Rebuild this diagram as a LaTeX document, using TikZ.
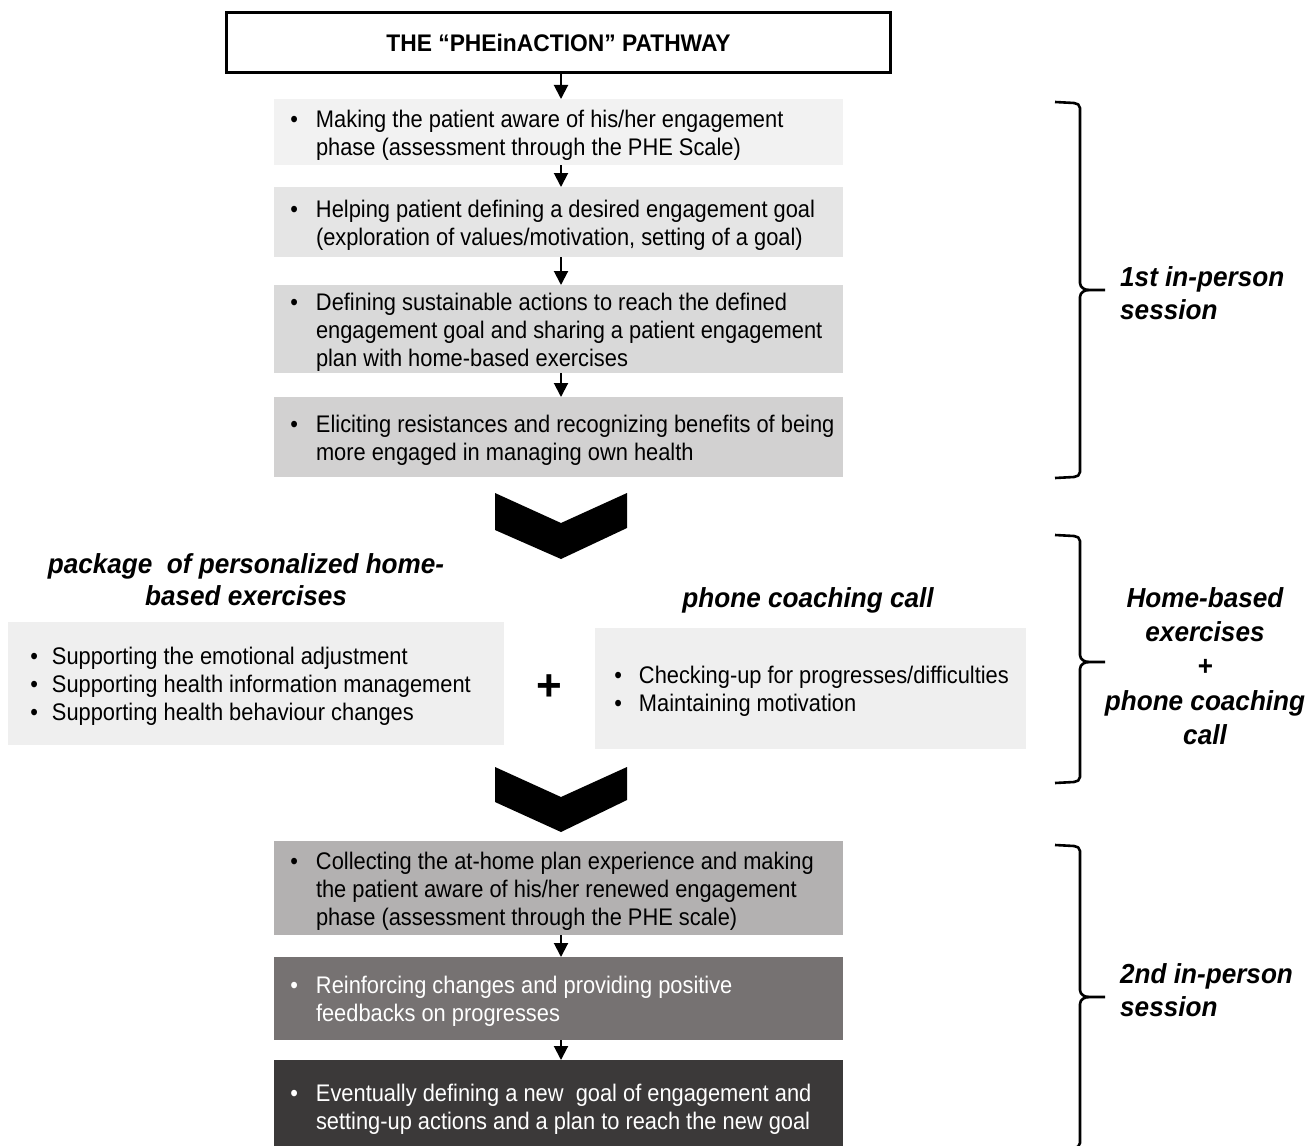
\documentclass[tikz,border=0pt]{standalone}
\usepackage{fontspec}
\setmainfont{Liberation Sans}
\newfontfamily\bodyfont[FakeStretch=0.91]{Liberation Sans}
\newfontfamily\headfont[FakeStretch=0.95]{Liberation Sans}
\usetikzlibrary{arrows.meta}

\definecolor{shadeA}{HTML}{F2F2F2}
\definecolor{shadeB}{HTML}{E5E5E5}
\definecolor{shadeC}{HTML}{D9D9D9}
\definecolor{shadeD}{HTML}{D2D1D1}
\definecolor{shadeE}{HTML}{B3B1B1}
\definecolor{shadeF}{HTML}{767272}
\definecolor{shadeG}{HTML}{3B3939}
\definecolor{shadeL}{HTML}{EFEFEF}

% bullet hanging to the left of the text start
\newcommand\bul[1]{\leavevmode\llap{\textbullet\hspace{#1}}}
% paragraph inside a box, with a left indent and a small top pad
\newcommand\boxpar[3]{\parbox{#1}{\vspace*{6pt}\bodyfont\fontsize{24}{28}\selectfont\raggedright\leftskip=#2\relax\parindent=0pt #3}}

\tikzset{
  stepbox/.style={draw=none, inner sep=0pt, minimum width=569pt, outer sep=0pt},
  flow/.style={line width=2pt, -{Triangle[width=14pt,length=14pt]}},
  heading/.style={font=\headfont\fontsize{27.5}{32}\selectfont\bfseries\itshape, align=center, inner sep=0pt},
  sidelabel/.style={font=\headfont\fontsize{27.5}{33}\selectfont\bfseries\itshape, inner sep=0pt},
  brc/.style={line width=2.6pt, line cap=butt, line join=round},
  chevron/.style={fill=black, draw=none},
}

% curly brace opening to the left: x, top, bottom, tip
\newcommand\sidebrace[4]{%
  \draw[brc] (#1-25,#2) -- (#1-6,#2+1) to[out=0,in=90] (#1,#2+6) -- (#1,#4-7)
    to[out=-90,in=180] (#1+9,#4) -- (#1+25,#4);
  \draw[brc] (#1+9,#4) to[out=180,in=90] (#1,#4+7) -- (#1,#3-6)
    to[out=-90,in=0] (#1-6,#3-1) -- (#1-25,#3);
}

\begin{document}
\begin{tikzpicture}[x=1pt,y=-1pt]
\clip (0,0) rectangle (1316,1145);
\fill[white] (0,0) rectangle (1316,1145);

% title
\node[draw=black, line width=3pt, minimum width=664pt, minimum height=60pt, inner sep=0pt,
      font=\headfont\fontsize{24}{26}\selectfont\bfseries] (title) at (558.5,42.5)
      {THE “PHEinACTION” PATHWAY};

% first session steps
\node[stepbox, fill=shadeA, minimum height=66pt] (s1) at (558.5,132)
  {\boxpar{569pt}{42pt}{\bul{18pt}Making the patient aware of his/her engagement\\
   phase (assessment through the PHE Scale)}};
\node[stepbox, fill=shadeB, minimum height=70pt] (s2) at (558.5,222)
  {\boxpar{569pt}{42pt}{\bul{18pt}Helping patient defining a desired engagement goal\\
   (exploration of values/motivation, setting of a goal)}};
\node[stepbox, fill=shadeC, minimum height=88pt] (s3) at (558.5,329)
  {\boxpar{569pt}{42pt}{\bul{18pt}Defining sustainable actions to reach the defined\\
   engagement goal and sharing a patient engagement\\
   plan with home-based exercises}};
\node[stepbox, fill=shadeD, minimum height=80pt] (s4) at (558.5,437)
  {\boxpar{569pt}{42pt}{\bul{18pt}Eliciting resistances and recognizing benefits of being\\
   more engaged in managing own health}};

\draw[flow] (title.south -| 561,0) -- (s1.north -| 561,0);
\draw[flow] (s1.south -| 561,0) -- (s2.north -| 561,0);
\draw[flow] (s2.south -| 561,0) -- (s3.north -| 561,0);
\draw[flow] (s3.south -| 561,0) -- (s4.north -| 561,0);

% chevrons
\fill[chevron] (495,493) -- (561,523) -- (627,493) -- (627,528) -- (561,559) -- (495,530) -- cycle;
\fill[chevron] (495,767) -- (561,797) -- (627,767) -- (627,800) -- (561,832) -- (495,802) -- cycle;

% home-based part
\node[heading] (hexe) at (246,580) {package\ \ of personalized home-\\based exercises};
\node[heading] (hcall) at (808,600) {phone coaching call};

\node[stepbox, fill=shadeL, minimum width=496pt, minimum height=123pt] (exe) at (256,683.5)
  {\boxpar{496pt}{44pt}{\bul{14pt}Supporting the emotional adjustment\\
   \bul{14pt}Supporting health information management\\
   \bul{14pt}Supporting health behaviour changes}};
\node[stepbox, fill=shadeL, minimum width=431pt, minimum height=121pt] (call) at (810.5,688.5)
  {\boxpar{431pt}{44pt}{\bul{17pt}Checking-up for progresses/difficulties\\
   \bul{17pt}Maintaining motivation}};
\node[inner sep=0pt, font=\fontsize{44}{44}\selectfont\bfseries] (plus) at (549,688) {+};

% second session steps
\node[stepbox, fill=shadeE, minimum height=94pt] (s5) at (558.5,888)
  {\boxpar{569pt}{42pt}{\bul{18pt}Collecting the at-home plan experience and making\\
   the patient aware of his/her renewed engagement\\
   phase (assessment through the PHE scale)}};
\node[stepbox, fill=shadeF, minimum height=83pt, text=white] (s6) at (558.5,998.5)
  {\boxpar{569pt}{42pt}{\bul{18pt}Reinforcing changes and providing positive\\
   feedbacks on progresses}};
\node[stepbox, fill=shadeG, minimum height=92pt, text=white] (s7) at (558.5,1106)
  {\boxpar{569pt}{42pt}{\bul{18pt}Eventually defining a new\ \ goal of engagement and\\
   setting-up actions and a plan to reach the new goal}};

\draw[flow] (s5.south -| 561,0) -- (s6.north -| 561,0);
\draw[flow] (s6.south -| 561,0) -- (s7.north -| 561,0);

% braces and their labels
\sidebrace{1080}{102}{478}{290}
\sidebrace{1080}{535}{783}{662}
\sidebrace{1080}{845}{1149}{997}

\node[sidelabel, anchor=west, align=left] (lab1) at (1120,293) {1st in-person\\session};
\node[sidelabel, align=center, font=\headfont\fontsize{27.5}{34.3}\selectfont\bfseries\itshape] (lab2) at (1205,666)
  {Home-based\\exercises\\+\\phone coaching\\call};
\node[sidelabel, anchor=west, align=left] (lab3) at (1120,990) {2nd in-person\\session};
\end{tikzpicture}
\end{document}
